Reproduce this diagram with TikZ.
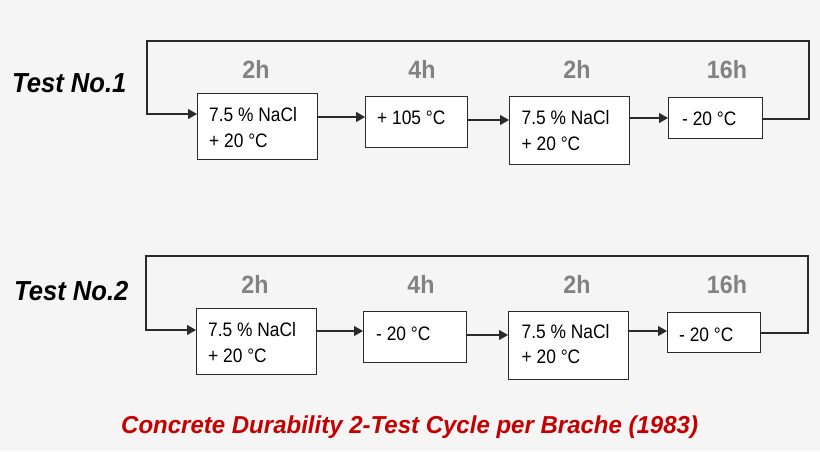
\documentclass[tikz,border=0pt]{standalone}
\usepackage{fontspec}
\setmainfont{Liberation Sans}
\newfontfamily\boxfont[FakeStretch=0.89]{Liberation Sans}
\newfontfamily\hourfont[FakeStretch=0.93]{Liberation Sans}
\newfontfamily\testfont[FakeStretch=0.93]{Liberation Sans}
\newfontfamily\capfont[FakeStretch=0.98]{Liberation Sans}
\usetikzlibrary{arrows.meta}
\definecolor{bgcol}{HTML}{F5F5F5}
\definecolor{linecol}{HTML}{2A2A2A}
\definecolor{hourcol}{HTML}{828282}
\definecolor{capcol}{HTML}{C40000}
\tikzset{
  stepbox/.style={draw=linecol, line width=1.2pt, fill=white, rectangle, inner sep=0pt, anchor=north west},
  boxtext/.style={inner sep=0pt, anchor=base west, font=\boxfont\fontsize{19.5}{26}\selectfont, text=black},
  hourlabel/.style={inner sep=0pt, anchor=base, font=\hourfont\bfseries\fontsize{25}{28}\selectfont, text=hourcol},
  testlabel/.style={inner sep=0pt, anchor=base west, font=\testfont\bfseries\itshape\fontsize{27.5}{30}\selectfont, text=black},
  caplabel/.style={inner sep=0pt, anchor=base west, font=\capfont\bfseries\itshape\fontsize{24.5}{28}\selectfont, text=capcol},
  arr/.style={draw=linecol, line width=1.2pt, -{Triangle[length=9pt,width=10pt]}},
}
\begin{document}
\begin{tikzpicture}[x=1pt,y=-1pt]
\fill[bgcol] (0,0) rectangle (820,451);
\useasboundingbox (0,0) rectangle (820,451);

% ---------- Test No.1 ----------
\node[testlabel] (test1) at (12,92) {Test No.1};
\node[hourlabel] (h11) at (256,78) {2h};
\node[hourlabel] (h12) at (422,78) {4h};
\node[hourlabel] (h13) at (577,78) {2h};
\node[hourlabel] (h14) at (727,78) {16h};

\node[stepbox, minimum width=120pt, minimum height=66pt] (b11) at (197,93) {};
\node[stepbox, minimum width=102pt, minimum height=51pt] (b12) at (365,96) {};
\node[stepbox, minimum width=120pt, minimum height=68pt] (b13) at (509,96) {};
\node[stepbox, minimum width=94pt, minimum height=41pt] (b14) at (668,97) {};

\node[boxtext] (t11a) at (209,121) {7.5 \% NaCl};
\node[boxtext] (t11b) at (209,147) {+ 20 °C};
\node[boxtext] (t12a) at (377,124) {+ 105 °C};
\node[boxtext] (t13a) at (521.5,124) {7.5 \% NaCl};
\node[boxtext] (t13b) at (521.5,150) {+ 20 °C};
\node[boxtext] (t14a) at (682,125) {- 20 °C};

\coordinate (r1R) at (809,41);
\coordinate (r1L) at (147,41);
\draw[arr] (b11.east |- 0,117) -- (b12.west |- 0,117);
\draw[arr] (b12.east |- 0,120) -- (b13.west |- 0,120);
\draw[arr] (b13.east |- 0,118) -- (b14.west |- 0,118);
\draw[arr] (b14.east |- 0,119) -| (r1R) -- (r1L) |- (b11.west |- 0,114);

% ---------- Test No.2 ----------
\node[testlabel] (test2) at (14,300) {Test No.2};
\node[hourlabel] (h21) at (255,293) {2h};
\node[hourlabel] (h22) at (421,293) {4h};
\node[hourlabel] (h23) at (577,293) {2h};
\node[hourlabel] (h24) at (727,293) {16h};

\node[stepbox, minimum width=120pt, minimum height=66pt] (b21) at (196,308) {};
\node[stepbox, minimum width=103pt, minimum height=51pt] (b22) at (363,311) {};
\node[stepbox, minimum width=120pt, minimum height=68pt] (b23) at (508,311) {};
\node[stepbox, minimum width=93pt, minimum height=40pt] (b24) at (667,312) {};

\node[boxtext] (t21a) at (208,336) {7.5 \% NaCl};
\node[boxtext] (t21b) at (208,362) {+ 20 °C};
\node[boxtext] (t22a) at (376,340) {- 20 °C};
\node[boxtext] (t23a) at (521.5,338) {7.5 \% NaCl};
\node[boxtext] (t23b) at (521.5,363.5) {+ 20 °C};
\node[boxtext] (t24a) at (679,341) {- 20 °C};

\coordinate (r2R) at (808,256);
\coordinate (r2L) at (146,256);
\draw[arr] (b21.east |- 0,331) -- (b22.west |- 0,331);
\draw[arr] (b22.east |- 0,335) -- (b23.west |- 0,335);
\draw[arr] (b23.east |- 0,331) -- (b24.west |- 0,331);
\draw[arr] (b24.east |- 0,333) -| (r2R) -- (r2L) |- (b21.west |- 0,330);

% ---------- caption ----------
\node[caplabel] (cap) at (121,433) {Concrete Durability 2-Test Cycle per Brache (1983)};
\end{tikzpicture}
\end{document}
